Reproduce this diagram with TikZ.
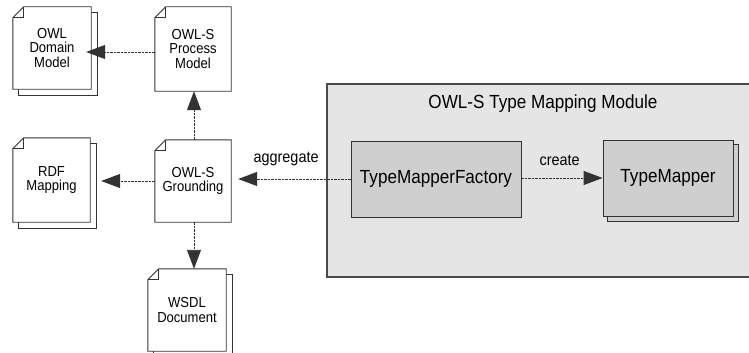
\documentclass[tikz,border=0pt]{standalone}
\usepackage{fontspec}
\setmainfont{Liberation Sans}[FakeStretch=0.9]
\usetikzlibrary{arrows.meta,backgrounds}

\definecolor{inkgray}{HTML}{333333}
\definecolor{classfill}{HTML}{CFCFCF}
\definecolor{modfill}{HTML}{E5E5E5}
\definecolor{modline}{HTML}{4A4A4A}

\tikzset{
  doc/.style={inner sep=0pt, align=center, font=\fontsize{14.5}{14.5}\selectfont},
  docline/.style={draw=inkgray, fill=white, line width=0.9pt},
  classbox/.style={draw=inkgray, fill=classfill, line width=0.9pt, inner sep=0pt,
    font=\fontsize{19}{22}\selectfont},
  dep/.style={draw=inkgray, line width=0.9pt, dash pattern=on 2.5pt off 1pt,
    -{Triangle[length=19pt,width=14pt]}},
  lbl/.style={font=\fontsize{16}{18}\selectfont, inner sep=0pt},
}

% outline of a page with a folded top-left corner, drawn from a node's anchors
\newcommand\pageoutline[1]{%
  \path[docline] ([yshift=-11pt]#1.north west) -- ([xshift=11pt]#1.north west)
    -- (#1.north east) -- (#1.south east) -- (#1.south west) -- cycle;
  \draw[docline, fill=none] ([xshift=11pt]#1.north west) |- ([yshift=-11pt]#1.north west);}
% plain sheet peeking out behind a page
\newcommand\pageshadow[1]{%
  \path[docline] ([shift={(6pt,-6pt)}]#1.north west) rectangle ([shift={(6pt,-6pt)}]#1.south east);}

\begin{document}
\begin{tikzpicture}[x=1pt,y=-1pt]
\useasboundingbox (0,0) rectangle (749,353);

% documents
\node[doc, minimum width=78pt, minimum height=82pt] (dom) at (52,48) {OWL\\Domain\\Model};
\node[doc, minimum width=76pt, minimum height=84pt] (proc) at (193,49) {OWL-S\\Process\\Model};
\node[doc, minimum width=77pt, minimum height=84pt] (rdf) at (51.5,180) {RDF\\Mapping};
\node[doc, minimum width=76pt, minimum height=82pt] (gnd) at (193,181) {OWL-S\\Grounding};
\node[doc, minimum width=78pt, minimum height=82pt] (wsdl) at (187,310) {WSDL\\Document};

% type mapping module
\node[inner sep=0pt, font=\fontsize{19}{22}\selectfont] (title) at (543,104) {OWL-S Type Mapping Module};
\node[classbox, minimum width=170pt, minimum height=76pt] (fac) at (436,179) {TypeMapperFactory};
\node[classbox, minimum width=130pt, minimum height=76pt] (tm) at (668,178) {TypeMapper};

\begin{scope}[on background layer]
  \path[draw=modline, fill=modfill, line width=1.2pt] (327,84) rectangle (752,277);
  \path[draw=inkgray, fill=classfill, line width=0.9pt]
    ([shift={(5pt,-5pt)}]tm.north west) rectangle ([shift={(5pt,-5pt)}]tm.south east);
  \pageshadow{dom}\pageshadow{rdf}\pageshadow{wsdl}
  \pageoutline{dom}\pageoutline{proc}\pageoutline{rdf}\pageoutline{gnd}\pageoutline{wsdl}
\end{scope}

% dependencies
\draw[dep, shorten >=-5pt] ([yshift=-3pt]proc.west) -- ([yshift=-3pt]proc.west -| dom.east);
\draw[dep] ([xshift=1pt]gnd.north) -- ([xshift=1pt]gnd.north |- proc.south);
\draw[dep, shorten >=11pt] (gnd.west) -- (gnd.west -| rdf.east);
\draw[dep] ([xshift=1pt]gnd.south) -- ([xshift=1pt]gnd.south |- wsdl.north);
\draw[dep, shorten >=7pt] (fac.west) -- (fac.west -| gnd.east)
  node[lbl, pos=0.54, above=13pt] {aggregate};
\draw[dep] ([yshift=1pt]fac.east) -- ([yshift=1pt]fac.east -| tm.west)
  node[lbl, pos=0.47, above=12pt] {create};
\end{tikzpicture}
\end{document}
